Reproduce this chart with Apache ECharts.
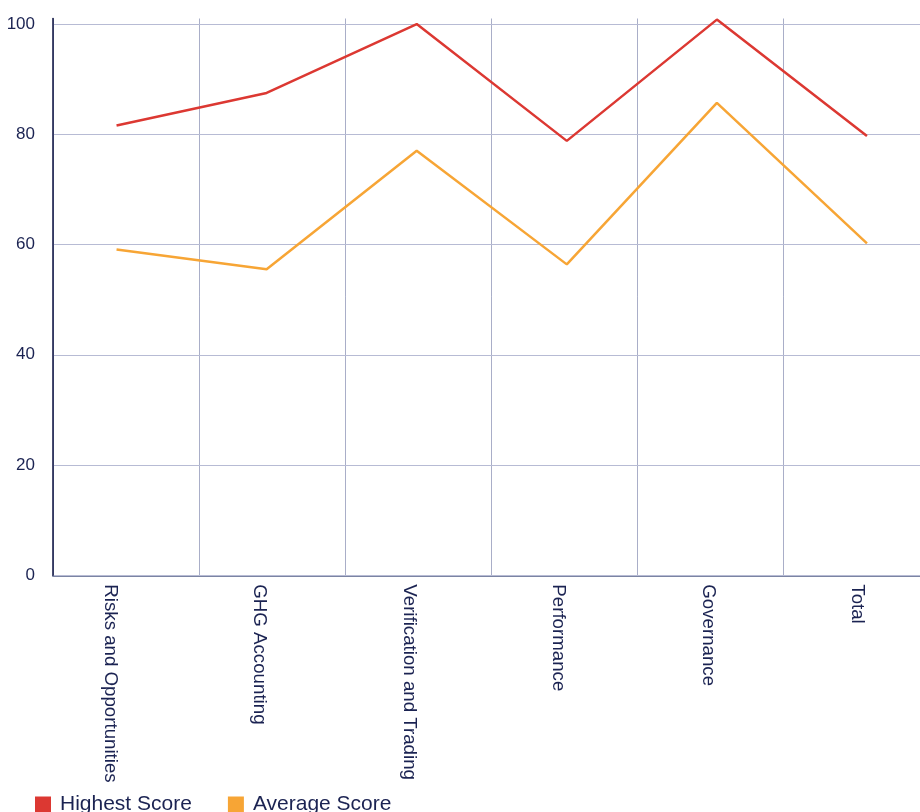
<!DOCTYPE html>
<html>
<head>
<meta charset="utf-8">
<title>Scores by Category</title>
<script src="https://cdn.jsdelivr.net/npm/echarts@6/dist/echarts.min.js"></script>
<style>
  html, body { margin: 0; padding: 0; background: #ffffff; }
  #chart { width: 920px; height: 812px; }
</style>
</head>
<body>
<div id="chart"></div>
<script>
// Category names along the bottom axis
const categories = [
  'Risks and Opportunities',
  'GHG Accounting',
  'Verification and Trading',
  'Performance',
  'Governance',
  'Total'
];

// Series values
const highestScore = [81.6, 87.5, 100.0, 78.8, 100.8, 79.7];
const averageScore = [59.1, 55.5, 77.0, 56.4, 85.7, 60.2];

// Value-axis range and tick step
const yMin = 0;
const yMax = 101;
const yStep = 20;

const navy = '#1b2352';
const font = 'Liberation Sans, Arial, Helvetica, sans-serif';
const gridTop = 18.5;
const gridBottom = 236.7;

const hiddenY = (gridIndex) => ({
  type: 'value', gridIndex, min: yMin, max: yMax, interval: yStep, show: false
});

const chart = echarts.init(document.getElementById('chart'), null, { renderer: 'canvas' });

chart.setOption({
  backgroundColor: '#ffffff',
  animation: false,
  textStyle: { fontFamily: font },
  grid: [
    // plotted lines (extends past the right edge of the canvas)
    { left: 41.5, width: 900.5, top: gridTop, bottom: gridBottom, outerBoundsMode: 'none' },
    // frame: axes and grid lines
    { left: 53, width: 876.6, top: gridTop, bottom: gridBottom, outerBoundsMode: 'none' },
    // category labels
    { left: 35.25, width: 897, top: gridTop, bottom: gridBottom, outerBoundsMode: 'none' }
  ],
  xAxis: [
    { type: 'category', gridIndex: 0, data: categories, boundaryGap: true, show: false },
    {
      type: 'category', gridIndex: 1, data: categories, boundaryGap: true,
      axisLine: { show: true, lineStyle: { color: '#7b84a3', width: 2 } },
      axisTick: { show: false },
      axisLabel: { show: false },
      splitLine: { show: true, interval: 0, lineStyle: { color: '#a9aec8', width: 1 } }
    },
    {
      type: 'category', gridIndex: 2, data: categories, boundaryGap: true,
      axisLine: { show: false },
      axisTick: { show: false },
      splitLine: { show: false },
      axisLabel: {
        show: true, interval: 0, rotate: -90, margin: 9,
        color: navy, fontSize: 18.7, fontFamily: font
      }
    }
  ],
  yAxis: [
    hiddenY(0),
    {
      type: 'value', gridIndex: 1, min: yMin, max: yMax, interval: yStep, z: 5,
      axisLine: { show: true, lineStyle: { color: '#0d1240', width: 1.5 } },
      axisTick: { show: false },
      axisLabel: {
        show: true, margin: 18, color: navy, fontSize: 17, fontFamily: font,
        formatter: (v) => (v % yStep === 0 ? String(v) : '')
      },
      splitLine: {
        show: true,
        lineStyle: {
          color: ['#b7bbd4', '#b7bbd4', '#b7bbd4', '#b7bbd4', '#b7bbd4', '#b7bbd4', 'rgba(0,0,0,0)'],
          width: 1.2
        }
      }
    },
    hiddenY(2)
  ],
  legend: {
    left: 35, top: 794, padding: 0,
    icon: 'rect', itemWidth: 16, itemHeight: 16, itemGap: 36,
    textStyle: { color: navy, fontSize: 21, fontFamily: font, padding: [0, 0, 0, 4] },
    data: ['Highest Score', 'Average Score']
  },
  series: [
    {
      name: 'Highest Score', type: 'line', xAxisIndex: 0, yAxisIndex: 0,
      data: highestScore, symbol: 'none', clip: false, z: 6,
      itemStyle: { color: '#dc3832' },
      lineStyle: { color: '#dc3832', width: 2.5 }
    },
    {
      name: 'Average Score', type: 'line', xAxisIndex: 0, yAxisIndex: 0,
      data: averageScore, symbol: 'none', clip: false, z: 6,
      itemStyle: { color: '#f7a535' },
      lineStyle: { color: '#f7a535', width: 2.5 }
    }
  ]
});
</script>
</body>
</html>
